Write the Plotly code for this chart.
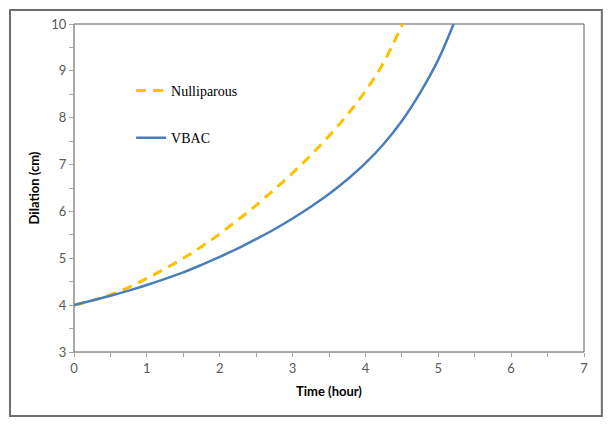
import plotly.graph_objects as go

# Data
time_vbac = [0, 0.25, 0.5, 0.75, 1, 1.25, 1.5, 1.75, 2, 2.25, 2.5, 2.75, 3, 3.25, 3.5,
             3.75, 4, 4.25, 4.5, 4.75, 5.0, 5.21]
dil_vbac = [4.0, 4.10, 4.20, 4.31, 4.43, 4.56, 4.70, 4.86, 5.03, 5.21, 5.41, 5.62, 5.85,
            6.10, 6.37, 6.68, 7.03, 7.44, 7.93, 8.53, 9.24, 10.0]

time_nulli = [0, 0.25, 0.5, 0.75, 1, 1.25, 1.5, 1.75, 2, 2.25, 2.5, 2.75, 3, 3.25, 3.5,
              3.75, 4, 4.25, 4.51]
dil_nulli = [4.0, 4.10, 4.22, 4.38, 4.57, 4.78, 5.0, 5.25, 5.52, 5.82, 6.13, 6.47, 6.82,
             7.2, 7.61, 8.06, 8.57, 9.18, 10.0]

x_ticks = [0, 1, 2, 3, 4, 5, 6, 7]
y_ticks = [3, 4, 5, 6, 7, 8, 9, 10]

fig = go.Figure()
fig.add_trace(go.Scatter(
    x=time_nulli, y=dil_nulli, mode="lines", name="Nulliparous",
    line=dict(color="#FFC000", width=3, dash="10px,7px", shape="spline", smoothing=1),
    legendgroup="a"))
fig.add_trace(go.Scatter(
    x=time_vbac, y=dil_vbac, mode="lines", name="VBAC",
    line=dict(color="#4A7EBB", width=2.5, shape="spline", smoothing=1),
    legendgroup="b"))

axis_font = dict(family="Lato, 'Open Sans', sans-serif", size=13, color="#595959")
title_font = dict(family="Lato, 'Open Sans', sans-serif", size=13, color="#000000")

fig.update_layout(
    width=613, height=426,
    margin=dict(l=74, r=29, t=24, b=74),
    paper_bgcolor="white", plot_bgcolor="white",
    showlegend=True,
    legend=dict(x=0.112, y=0.845, xanchor="left", yanchor="top",
                font=dict(family="'Liberation Serif', serif", size=14, color="#000"),
                bgcolor="rgba(0,0,0,0)", tracegroupgap=26, traceorder="grouped",
                itemwidth=30),
    xaxis=dict(range=[0, 7], tickvals=x_ticks, ticktext=[str(v) for v in x_ticks],
               showgrid=False, zeroline=False, showline=True, linecolor="#A6A6A6",
               linewidth=1, ticks="outside", ticklen=4, tickcolor="#A6A6A6",
               minor=dict(dtick=0.5, ticks="outside", ticklen=4, tickcolor="#A6A6A6"),
               tickfont=axis_font,
               title=dict(text="<b>Time (hour)</b>", font=title_font, standoff=12)),
    yaxis=dict(range=[3, 10], tickvals=y_ticks, ticktext=[str(v) for v in y_ticks],
               showgrid=False, zeroline=False, showline=True, linecolor="#A6A6A6",
               linewidth=1, ticks="outside", ticklen=4, tickcolor="#A6A6A6",
               minor=dict(dtick=0.5, ticks="outside", ticklen=4, tickcolor="#A6A6A6"),
               tickfont=axis_font,
               title=dict(text="<b>Dilation (cm)</b>", font=title_font, standoff=8)),
    shapes=[
        dict(type="rect", xref="paper", yref="paper", x0=0, x1=1, y0=0, y1=1,
             line=dict(color="#5A5A5A", width=1), layer="below"),
        dict(type="rect", xref="paper", yref="paper", x0=-0.1255, x1=1.035,
             y0=-0.195, y1=1.0427, line=dict(color="#6E6E6E", width=2), layer="below"),
    ],
)

fig.write_html("out.html", config={"displayModeBar": False},
               post_script="document.body.style.margin='0';document.body.style.overflow='hidden';")
